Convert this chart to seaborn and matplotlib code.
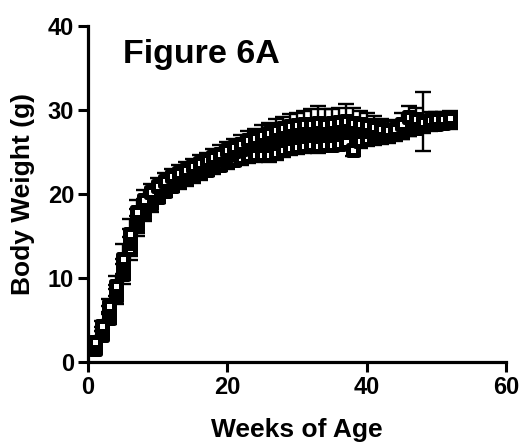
import matplotlib
matplotlib.use("Agg")
import matplotlib.pyplot as plt
import numpy as np
import pandas as pd
import seaborn as sns

# Weekly body weight (g), mean and SEM per group
weeks = list(range(1, 53))

group_a_mean = [1.8, 3.6, 5.8, 8.2, 11.0, 14.2, 16.8, 18.2, 19.2, 20.0,
                20.8, 21.4, 21.9, 22.3, 22.7, 23.1, 23.5, 23.9, 24.3, 24.7,
                25.1, 25.4, 25.8, 26.1, 26.4, 26.7, 26.9, 27.1, 27.3, 27.4,
                27.5, 27.6, 27.7, 27.7, 27.8, 27.8, 27.9, 27.8, 27.7, 27.5,
                27.3, 27.2, 27.2, 27.3, 27.5, 27.8, 28.1, 28.3, 28.5, 28.6,
                28.7, 28.8]
group_a_sem = [0.3, 0.5, 0.8, 1.0, 1.3, 1.6, 1.4, 1.2, 1.0, 0.9,
               0.8, 0.8, 0.8, 0.8, 0.8, 0.8, 0.8, 0.8, 0.8, 0.8,
               0.8, 0.8, 0.9, 0.9, 0.9, 0.9, 1.0, 1.0, 1.0, 1.0,
               1.0, 1.0, 1.0, 1.0, 1.0, 1.0, 1.0, 1.0, 1.0, 1.0,
               0.9, 0.9, 0.9, 0.9, 0.9, 0.9, 0.9, 0.9, 0.8, 0.8,
               0.8, 0.8]

group_b_mean = [2.4, 4.3, 6.6, 9.0, 12.3, 15.2, 17.8, 19.3, 20.2, 21.0,
                21.6, 22.1, 22.5, 22.9, 23.3, 23.7, 24.0, 24.4, 24.8, 25.2,
                25.6, 26.0, 26.4, 26.7, 27.0, 27.3, 27.6, 27.9, 28.1, 28.2,
                28.3, 28.4, 28.5, 28.4, 28.5, 28.6, 28.7, 28.5, 28.4, 28.2,
                28.0, 27.8, 27.6, 27.7, 28.4, 29.2, 28.9, 28.6, 28.8, 28.9,
                29.0, 29.1]
group_b_sem = [0.4, 0.6, 0.9, 1.2, 1.8, 1.8, 1.5, 1.2, 1.0, 0.9,
               0.9, 0.9, 0.9, 0.9, 0.9, 0.9, 0.9, 1.0, 1.0, 1.0,
               1.0, 1.0, 1.1, 1.1, 1.2, 1.2, 1.3, 1.3, 1.4, 1.5,
               1.6, 1.7, 2.0, 1.7, 1.6, 1.7, 2.0, 1.8, 1.5, 1.4,
               1.3, 1.2, 1.1, 1.1, 1.2, 1.3, 1.3, 3.5, 1.0, 0.9,
               0.8, 0.8]

group_c_mean = [1.5, 3.2, 5.2, 7.8, 10.5, 13.5, 16.2, 17.8, 18.8, 19.7,
                20.4, 21.0, 21.4, 21.8, 22.1, 22.5, 22.9, 23.2, 23.5, 23.8,
                24.1, 24.3, 24.5, 24.6, 24.7, 24.6, 24.9, 25.2, 25.5, 25.6,
                25.7, 25.8, 25.7, 25.9, 25.9, 26.0, 26.2, 25.3, 26.3, 26.5,
                26.7, 26.8, 26.9, 27.1, 27.4, 27.7, 27.9, 28.1, 28.3, 28.4,
                28.5, 28.6]
group_c_sem = [0.3, 0.5, 0.7, 0.9, 1.2, 1.4, 1.2, 1.0, 0.9, 0.8,
               0.8, 0.8, 0.8, 0.8, 0.8, 0.8, 0.8, 0.8, 0.8, 0.8,
               0.8, 0.8, 0.8, 0.8, 0.8, 0.8, 0.8, 0.8, 0.8, 0.8,
               0.8, 0.8, 0.8, 0.8, 0.8, 0.8, 0.8, 0.8, 0.8, 0.8,
               0.8, 0.8, 0.8, 0.8, 0.8, 0.8, 0.8, 0.8, 0.8, 0.8,
               0.8, 0.8]

x_ticks = [0, 20, 40, 60]
y_ticks = [0, 10, 20, 30, 40]

sns.set_style("ticks")
plt.rcParams["font.family"] = ["Liberation Sans", "DejaVu Sans"]
plt.rcParams["font.weight"] = "bold"
plt.rcParams["text.color"] = "black"
plt.rcParams["axes.labelcolor"] = "black"

fig = plt.figure(figsize=(5.24, 4.44), dpi=100)
ax = fig.add_axes([0.168, 0.185, 0.798, 0.756])

groups = [
    (group_c_mean, group_c_sem, "white"),
    (group_a_mean, group_a_sem, "black"),
    (group_b_mean, group_b_sem, "white"),
]

# error bars first, markers on top
for mean, sem, face in groups:
    ax.errorbar(weeks, mean, yerr=sem, fmt="none", ecolor="black",
                elinewidth=1.7, capsize=5.5, capthick=1.7, zorder=2)

for mean, sem, face in groups:
    df = pd.DataFrame({"week": weeks, "weight": mean})
    sns.scatterplot(data=df, x="week", y="weight", ax=ax, marker="s",
                    s=52, color=face, edgecolor="black", linewidth=3.6,
                    zorder=3, clip_on=False)

ax.set_xlim(0, 60)
ax.set_ylim(0, 40)
ax.set_xticks(x_ticks)
ax.set_yticks(y_ticks)
ax.tick_params(axis="both", direction="out", length=7, width=2.2,
               labelsize=17, pad=3, color="black", labelcolor="black")
for lbl in ax.get_xticklabels() + ax.get_yticklabels():
    lbl.set_fontweight("bold")

for side in ("top", "right"):
    ax.spines[side].set_visible(False)
for side in ("left", "bottom"):
    ax.spines[side].set_linewidth(2.3)
    ax.spines[side].set_color("black")

ax.set_xlabel("Weeks of Age", fontsize=19, fontweight="bold", labelpad=14,
              color="black")
ax.set_ylabel("Body Weight (g)", fontsize=19, fontweight="bold", labelpad=9,
              color="black")

ax.text(5.0, 35.6, "Figure 6A", fontsize=24.5, fontweight="bold",
        ha="left", va="baseline", color="black")

fig.savefig("out.png", dpi=100, facecolor="white")
